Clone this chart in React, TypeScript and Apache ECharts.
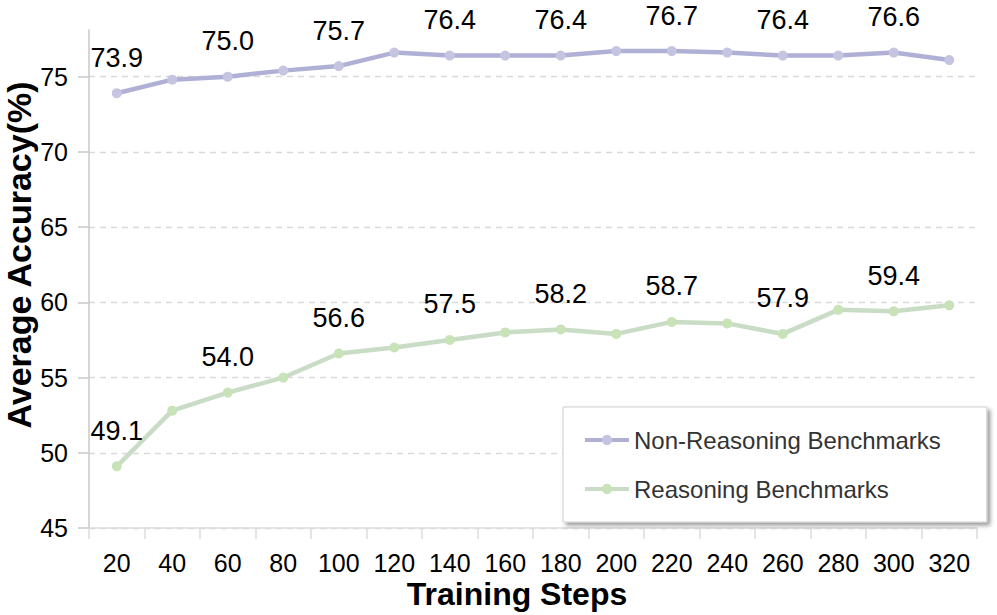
import React, { useEffect, useRef } from 'react';
import * as echarts from 'echarts';

const steps = ['20', '40', '60', '80', '100', '120', '140', '160', '180', '200', '220', '240', '260', '280', '300', '320'];
const nonReasoning = [73.9, 74.8, 75.0, 75.4, 75.7, 76.6, 76.4, 76.4, 76.4, 76.7, 76.7, 76.6, 76.4, 76.4, 76.6, 76.1];
const reasoning = [49.1, 52.8, 54.0, 55.0, 56.6, 57.0, 57.5, 58.0, 58.2, 57.9, 58.7, 58.6, 57.9, 59.5, 59.4, 59.8];
const yTicks = [45, 50, 55, 60, 65, 70, 75];
const seriesNames = ['Non-Reasoning Benchmarks', 'Reasoning Benchmarks'];

const FONT = '"Liberation Sans", Arial, Helvetica, sans-serif';

function makeSeries(name: string, values: number[], lineColor: string, markerColor: string) {
  return {
    name,
    type: 'line',
    data: values.map((v, i) => ({
      value: v,
      label: { show: i % 2 === 0 },
    })),
    symbol: 'circle',
    symbolSize: 10,
    lineStyle: { color: lineColor, width: 4.5 },
    itemStyle: { color: markerColor },
    label: {
      show: false,
      position: 'top',
      distance: 17,
      color: '#000',
      fontSize: 27,
      fontFamily: FONT,
      formatter: (p: any) => Number(p.value).toFixed(1),
    },
    emphasis: { disabled: true },
    z: 3,
  };
}

export default function App() {
  const ref = useRef<HTMLDivElement>(null);
  useEffect(() => {
    if (!ref.current) return;
    const chart = echarts.init(ref.current, undefined, { renderer: 'svg' });
    chart.setOption({
      animation: false,
      backgroundColor: '#fff',
      textStyle: { fontFamily: FONT },
      grid: { left: 89, right: 20, top: 30, bottom: 87, containLabel: false, outerBoundsMode: 'none' },
      legend: {
        orient: 'vertical',
        left: 563,
        top: 407,
        data: seriesNames,
        padding: [21, 46, 21, 20],
        itemGap: 25,
        itemWidth: 44,
        itemHeight: 13,
        lineStyle: { width: 4 },
        backgroundColor: '#fff',
        borderColor: '#cfcfcf',
        borderWidth: 1,
        shadowColor: 'rgba(0,0,0,0.4)',
        shadowBlur: 4,
        shadowOffsetX: 3,
        shadowOffsetY: 3,
        textStyle: { fontSize: 24, color: '#333', fontFamily: FONT },
      },
      xAxis: {
        type: 'category',
        data: steps,
        boundaryGap: true,
        name: 'Training Steps',
        nameLocation: 'middle',
        nameGap: 50,
        nameMoveOverlap: false,
        nameTextStyle: { fontSize: 32, fontWeight: 'bold', color: '#000', fontFamily: FONT, padding: [0, 32, 0, 0] },
        axisLine: { show: true, lineStyle: { color: '#dcdcdc', width: 1.5 } },
        axisTick: { show: true, length: 11, lineStyle: { color: '#dcdcdc', width: 1.5 } },
        axisLabel: { fontSize: 25, color: '#000', margin: 22, fontFamily: FONT },
        splitLine: { show: false },
      },
      yAxis: {
        type: 'value',
        min: 45,
        max: 78.1,
        interval: 5,
        name: 'Average Accuracy(%)',
        nameLocation: 'middle',
        nameGap: 53,
        nameMoveOverlap: false,
        nameTextStyle: { fontSize: 34, lineHeight: 34, fontWeight: 'bold', color: '#000', fontFamily: FONT, padding: [0, 0, 0, 48] },
        axisLine: { show: true, lineStyle: { color: '#c8c8c8', width: 1.5 } },
        axisTick: { show: true, length: 11, customValues: yTicks, lineStyle: { color: '#c8c8c8', width: 1.5 } },
        axisLabel: { fontSize: 25, color: '#000', margin: 21, customValues: yTicks, fontFamily: FONT },
        splitLine: { show: true, lineStyle: { color: '#d9d9d9', width: 1.3, type: [6, 5] } },
      },
      series: [
        makeSeries(seriesNames[0], nonReasoning, '#b0b0d6', '#c5c5e2'),
        makeSeries(seriesNames[1], reasoning, '#c9dcc5', '#c8e3b8'),
      ],
    });
    return () => chart.dispose();
  }, []);
  return <div ref={ref} style={{ position: 'fixed', left: 0, top: 0, width: 997, height: 615 }} />;
}
